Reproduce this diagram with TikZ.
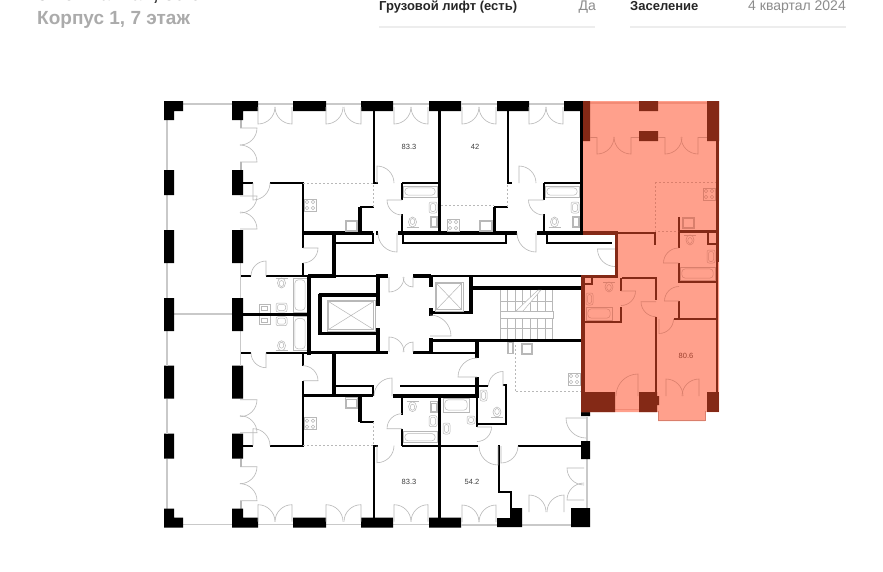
\documentclass[tikz,border=0pt]{standalone}
\usepackage{fontspec}
\setmainfont{Liberation Sans}
\definecolor{fixcol}{HTML}{B8B8B8}
\definecolor{glasscol}{HTML}{C9C9C9}
\definecolor{flatfill}{HTML}{FFA08C}
\definecolor{flatwall}{HTML}{842916}
\definecolor{flatline}{HTML}{D97F6C}
\definecolor{flatglass}{HTML}{F28A75}
\tikzset{
  wall/.style={draw=black, line width=2pt},
  thickwall/.style={draw=black, line width=3.4pt},
  column/.style={fill=black},
  glass/.style={draw=glasscol, line width=1.5pt},
  fix/.style={draw=fixcol, line width=0.5pt},
  door/.style={draw=fixcol, line width=0.6pt},
  zone/.style={draw=fixcol, line width=0.5pt, dash pattern=on 2pt off 2pt},
  area/.style={font=\fontsize{7.5}{9}\selectfont, text=black!75},
  head/.style={anchor=base west, inner sep=0pt, font=\fontsize{13}{15}\selectfont\bfseries, text=black!85},
  headval/.style={anchor=base east, inner sep=0pt, font=\fontsize{14}{15}\selectfont, text=black!45}
}
% hinge, start angle, end angle, radius
\newcommand{\leaf}[4]{\draw[door] (#1) -- ++(#2:#4) arc (#2:#3:#4);}
\newcommand{\tub}[4]{\draw[fix] (#1,#2) rectangle (#3,#4);
  \draw[fix, rounded corners=3.5pt] ({#1+1.8},{#2+1.8}) rectangle ({#3-1.8},{#4-1.8});}
\newcommand{\basin}[4]{\draw[fix, rounded corners=2pt] (#1,#2) rectangle (#3,#4);
  \draw[fix, rounded corners=2pt] ({#1+1.5},{#2+1.5}) rectangle ({#3-1.5},{#4-1.5});}
\newcommand{\sinkbox}[4]{\draw[fix] (#1,#2) rectangle (#3,#4);
  \draw[fix] ({#1+1.2},{#2+1.2}) rectangle ({#3-1.2},{#4-1.2});}
\newcommand{\stove}[2]{\draw[fix] (#1,#2) rectangle ++(12,12);
  \foreach \i in {3,9} \foreach \j in {3,9} \draw[fix] ({#1+\i},{#2+\j}) circle (1.7);}
\newcommand{\wc}[3]{\draw[fix] ({#1-6},#2) -- ({#1+6},#2);
  \draw[fix] (#1,{#2+#3*5}) ellipse (4 and 5); \draw[fix] (#1,{#2+#3*5.5}) ellipse (2.3 and 3);}
\newcommand{\lift}[4]{\draw[fix] (#1,#2) rectangle (#3,#4);
  \draw[fix] ({#1+1.5},{#2+1.5}) rectangle ({#3-1.5},{#4-1.5});
  \draw[fix] ({#1+1.5},{#2+1.5}) -- ({#3-1.5},{#4-1.5}) ({#1+1.5},{#4-1.5}) -- ({#3-1.5},{#2+1.5});}
% everything that repeats in the lower half of the floor
\newcommand{\halfplan}{
  % facade
  \draw[glass] (183,104) -- (232,104) (258,104) -- (293,104) (326,104) -- (361,104) (393,104) -- (429,104);
  \draw[glass] (167,120) -- (167,170) (167,195) -- (167,230) (167,263) -- (167,298);
  \draw[glass, line width=1pt] (240.6,263) -- (240.6,298);
  \draw[fix] (240,120) -- (240,128) (241.4,120) -- (241.4,128) (240,162) -- (240,170) (241.4,162) -- (241.4,170);
  \fill[column] (164,101) rectangle (183,111) (164,101) rectangle (174,120);
  \fill[column] (232,101) rectangle (258,111) (232,101) rectangle (243,120);
  \fill[column] (293,101) rectangle (326,111) (361,101) rectangle (393,111) (429,101) rectangle (461,111);
  \fill[column] (164,170) rectangle (174,195) (232,170) rectangle (243,195);
  \fill[column] (164,230) rectangle (174,263) (232,230) rectangle (243,263);
  % walls
  \draw[wall] (374,111) -- (374,183) -- (378,183);
  \draw[wall] (243,183) -- (253,183) (270,183) -- (303,183) -- (303,248) (303,263) -- (303,276);
  \draw[wall] (241,276) -- (251,276) (266,276) -- (307,276);
  \draw[thickwall] (303,233) -- (373,233) (334,233) -- (334,276) (360,233) -- (360,207);
  \draw[wall] (360,207) -- (374,207) (334,243) -- (373,243) -- (373,233);
  \draw[wall] (402,183) -- (438,183) (402,183) -- (402,200) (402,214) -- (402,233);
  \draw[thickwall] (439.5,111) -- (439.5,233);
  % doors
  \leaf{258,107}{90}{0}{17} \leaf{292,107}{90}{180}{17}
  \leaf{326,107}{90}{0}{17} \leaf{361,107}{90}{180}{17}
  \leaf{394,107}{90}{0}{17} \leaf{428,107}{90}{180}{17}
  \leaf{240,128}{0}{90}{17} \leaf{240,162}{0}{-90}{17}
  \leaf{240,196}{0}{90}{17} \leaf{240,229}{0}{-90}{17}
  \leaf{253,183}{90}{0}{17} \leaf{303,248}{0}{90}{15}
  \leaf{266,276}{270}{180}{15} \leaf{377,183}{270}{360}{17}
  \leaf{402,200}{180}{90}{15}
  % fixtures
  \stove{304}{199} \sinkbox{345}{220}{357}{231}
  \wc{281.5}{278}{1}
  \tub{293}{278}{307}{312} \basin{276}{303}{287}{312}
  \draw[fix] (259,304) rectangle (270,313) (261.5,306.5) rectangle (267.5,310.5);
  \tub{403}{186}{437}{197} \basin{429}{202}{437}{213} \sinkbox{430}{216}{437}{227}
  \wc{412.5}{227}{-1}
  \draw[zone] (303,183) -- (373,183) -- (373,207);
  % bath wall on the axis
  \draw[thickwall] (243,314.35) -- (308,314.35);
}
\begin{document}
\begin{tikzpicture}[x=1pt, y=1pt, yscale=-1]
  \useasboundingbox (0,0) rectangle (883,571);
  \clip (0,0) rectangle (883,571);
  \fill[white] (0,0) rectangle (883,571);

  % header
  \node (title) [anchor=base west, inner sep=0pt, font=\fontsize{19}{24}\selectfont\bfseries, text=black!80] at (37,0.5) {3-комнатная, 80.6 м²};
  \node (house) [anchor=base west, inner sep=0pt, font=\fontsize{19}{24}\selectfont\bfseries, text=black!33] at (37,24) {Корпус 1, 7 этаж};
  \node (lifttxt) [head] at (379,10) {Грузовой лифт (есть)};
  \node (liftval) [headval] at (596,10) {Да};
  \node (settxt) [head] at (630,10) {Заселение};
  \node (setval) [headval] at (846,10) {4 квартал 2024};
  \draw[draw=black!7, line width=1.2pt] (379,27) -- (595,27) (630,27) -- (846,27);

  % plan, upper and lower half
  \halfplan
  \begin{scope}[shift={(0,628.7)}, yscale=-1]
    \halfplan
  \end{scope}

  % facade between the halves
  \draw[glass] (167,331) -- (167,366) (167,399) -- (167,434) (167,459) -- (167,508) (174,314) -- (232,314);
  \draw[glass, line width=1pt] (240.6,331) -- (240.6,366);
  \draw[glass] (461,104) -- (497,104) (529,104) -- (564,104);
  \draw[glass] (461,525) -- (497,525) (522,525) -- (571,525) (587,417) -- (587,441) (587,459) -- (587,508);
  \fill[column] (164,298) rectangle (174,331) (232,298) rectangle (243,331);
  \fill[column] (497,101) rectangle (529,111) (564,101) rectangle (583,111);
  \fill[column] (497,518) rectangle (522,527) (510,508) rectangle (522,518);
  \fill[column] (571,508) rectangle (590,527) (581,441) rectangle (590,459) (581,412) rectangle (590,416);

  % top flats
  \draw[wall] (508,111) -- (508,183) -- (512,183);
  \draw[wall] (544,183) -- (580,183) (544,183) -- (544,200) (544,214) -- (544,233);
  \draw[thickwall] (581.5,101) -- (581.5,233);
  \draw[thickwall] (398,233) -- (517,233) (537,233) -- (583,233) (494.5,233) -- (494.5,207);
  \draw[thickwall] (376,233) -- (378,233);
  \draw[wall] (494,207) -- (508,207) (403,233) -- (403,243) -- (506,243) -- (506,233);
  \draw[wall] (547,233) -- (547,243) -- (612,243);
  \draw[zone] (441,205.5) -- (494,205.5) (507.7,185) -- (507.7,207);
  \stove{447}{219} \sinkbox{479}{220}{492}{231}
  \tub{545}{186}{579}{197} \basin{571}{202}{579}{213} \sinkbox{572}{216}{579}{227}
  \wc{554.5}{227}{-1}
  \leaf{462,107}{90}{0}{17} \leaf{496,107}{90}{180}{17}
  \leaf{529,107}{90}{0}{17} \leaf{563,107}{90}{180}{17}
  \leaf{519,183}{270}{360}{17} \leaf{543.5,200}{180}{90}{15}
  \leaf{397,233}{90}{180}{19} \leaf{536,233}{90}{180}{19}
  \leaf{615,249}{180}{90}{17.5}

  % core
  \draw[thickwall] (308,276) -- (336,276) (376,276) -- (388,276) (413,276) -- (431,276);
  \draw[wall] (336,275.6) -- (376,275.6) (431,275.6) -- (581,275.6);
  \draw[thickwall] (472,288) -- (581,288) (309,274.5) -- (309,354.5);
  \draw[thickwall] (308,352.5) -- (388,352.5) (413,352.5) -- (431,352.5);
  \draw[thickwall] (320,293.5) -- (320,335) (318.5,295) -- (380,295) (318.5,333.5) -- (380,333.5);
  \draw[thickwall] (378,276) -- (378,306) (378,328) -- (378,352);
  \draw[thickwall] (431,276) -- (431,286.5) (431,308) -- (431,316) (431,312.5) -- (472,312.5) (471,276) -- (471,314);
  \draw[thickwall] (431,338) -- (431,354) (430,340.7) -- (581,340.7);
  \draw[wall] (431,352.7) -- (476,352.7);
  \lift{327}{300}{375}{331} \lift{435}{282}{463}{311}
  \leaf{389,277}{90}{0}{15} \leaf{413,277}{90}{180}{10}
  \leaf{389,352}{270}{360}{15} \leaf{413,352}{270}{180}{10}
  \leaf{430,336}{0}{-90}{21}

  % stairs
  \foreach \sx in {500,507.5,515,522.5,530,537.5,545,552.5} {
    \draw[fix] (\sx,290) -- (\sx,311) (\sx,318) -- (\sx,339);
  }
  \draw[fix] (500,301) -- (553,301) (500,328) -- (553,328);
  \draw[fix, fill=white] (500,311) rectangle (553,318);
  \draw[fix, fill=white] (516,311) -- (538,290) -- (541,290) -- (523,311) -- cycle;

  % lower right flat
  \draw[thickwall] (477,339) -- (477,357.5) (477,377) -- (477,398);
  \draw[thickwall] (393,396) -- (478,396);
  \draw[wall] (400,386) -- (488,386) (477,396) -- (477,426.5);
  \draw[wall] (478,423.5) -- (506,423.5) -- (506,385) -- (503,385);
  \draw[wall] (439,445.7) -- (478,445.7) (499,445) -- (499,492) -- (511,492) -- (511,508);
  \draw[wall] (518,445.7) -- (581,445.7);
  \draw[thickwall] (439.5,396) -- (439.5,518);
  \fill[column] (429,518) rectangle (461,527);
  \draw[fix] (507,342) rectangle (513,353.7) (507.8,342) rectangle (512.2,352.8);
  \sinkbox{521}{343}{532}{354}
  \draw[zone] (515,345) -- (515,391.7) -- (581,391.7);
  \stove{568}{373}
  \tub{443}{398}{469}{412} \basin{443}{423}{450}{434} \basin{467}{416}{475}{424}
  \basin{480}{390}{487}{401} \wc{497}{417}{-1}
  \leaf{477,377}{180}{270}{19} \leaf{503,386}{270}{180}{14.5}
  \leaf{477,427}{0}{90}{14.5} \leaf{498,446}{90}{180}{19} \leaf{501,446}{90}{0}{17}
  \leaf{392,396}{270}{180}{18} \leaf{529,512}{270}{360}{17} \leaf{564,512}{270}{180}{17}
  \leaf{584,468}{180}{90}{17} \leaf{584,500}{180}{270}{17} \leaf{586,418}{180}{90}{20}
  \leaf{462,522}{270}{360}{17} \leaf{496,522}{270}{180}{17}

  % selected flat
  \fill[flatfill] (583,101) -- (719,101) -- (719,412) -- (705,412) -- (705,421) -- (658,421) -- (658,412)
    -- (581,412) -- (581,275) -- (615,275) -- (615,233) -- (583,233) -- cycle;
  \begin{scope}
    \colorlet{fixcol}{flatline}
    \draw[draw=flatglass, line width=1.5pt] (590,103) -- (639,103) (658,103) -- (707,103);
    \draw[draw=flatline, line width=.7pt] (658,411) -- (658,420.5) -- (705.5,420.5) -- (705.5,411);
    \draw[draw=flatglass, line width=1.5pt] (615,409.5) -- (639,409.5);
    \fill[flatwall] (583,101) rectangle (590,141) (707,101) rectangle (719,141);
    \fill[flatwall] (639,101) rectangle (658,111) (639,131) rectangle (658,141);
    \fill[flatwall] (581,392) rectangle (615,412) (639,392) rectangle (657,412) (657,396) rectangle (659,405);
    \fill[flatwall] (707,392) rectangle (719,412);
    \tikzset{wall/.style={draw=flatwall, line width=2pt}, thickwall/.style={draw=flatwall, line width=3.4pt}}
    \draw[thickwall] (717.3,140) -- (717.3,262) (583,233) -- (618,233) (616.7,233) -- (616.7,277) (581,276.5) -- (618,276.5) (582.8,275) -- (582.8,412);
    \draw[wall, line width=3pt] (678,231.5) -- (716,231.5);
    \draw[wall] (618,232.5) -- (655,232.5) (655,232) -- (655,245) (678.5,217) -- (678.5,248) (679,263) -- (679,283);
    \draw[wall] (707.5,232) -- (707.5,244) -- (716,244) (679,282) -- (716,282);
    \draw[wall] (716.5,262) -- (716.5,393);
    \draw[wall] (679,301) -- (679,319) (674,319) -- (716,319);
    \draw[wall] (622,277.5) -- (656,277.5) (655.7,277) -- (655.7,300) (655.7,317) -- (655.7,393);
    \draw[wall] (585,284) -- (592,284) -- (592,278) (621,278) -- (621,291) (621,307) -- (621,323) (584,322) -- (622,322);
    \draw[zone, draw=flatline] (655,182) -- (716,182) (655,182) -- (655,231) -- (678,231);
    \stove{703}{188} \sinkbox{682}{217}{694}{228}
    \wc{690}{235}{1} \wc{609}{282}{1}
    \basin{707}{250}{715}{263} \tub{680}{267}{715}{280}
    \basin{586}{293}{593}{305} \tub{586}{307}{612}{320}
    \draw[door] (590,137) -- (597,137) (631,137) -- (639,137) (658,137) -- (665,137) (698,137) -- (707,137);
    \leaf{597,137}{90}{0}{17} \leaf{631,137}{90}{180}{17}
    \leaf{665,137}{90}{0}{17} \leaf{698,137}{90}{180}{17}
    \leaf{678.5,263}{180}{270}{15} \leaf{679,301}{180}{270}{14.5}
    \leaf{659,319}{90}{0}{14.5} \leaf{656,301.7}{180}{90}{15}
    \leaf{621,291}{0}{90}{14.5} \leaf{638,396}{270}{180}{22}
    \leaf{666,396}{270}{360}{17} \leaf{699,396}{270}{180}{17}
  \end{scope}

  % areas
  \node (flata) [area] at (409,147) {83.3};
  \node (flatb) [area] at (475,147) {42};
  \node (flatc) [area] at (409,482) {83.3};
  \node (flatd) [area] at (472,482) {54.2};
  \node (flate) [area, text=flatwall!80!flatfill] at (686,356) {80.6};
\end{tikzpicture}
\end{document}
